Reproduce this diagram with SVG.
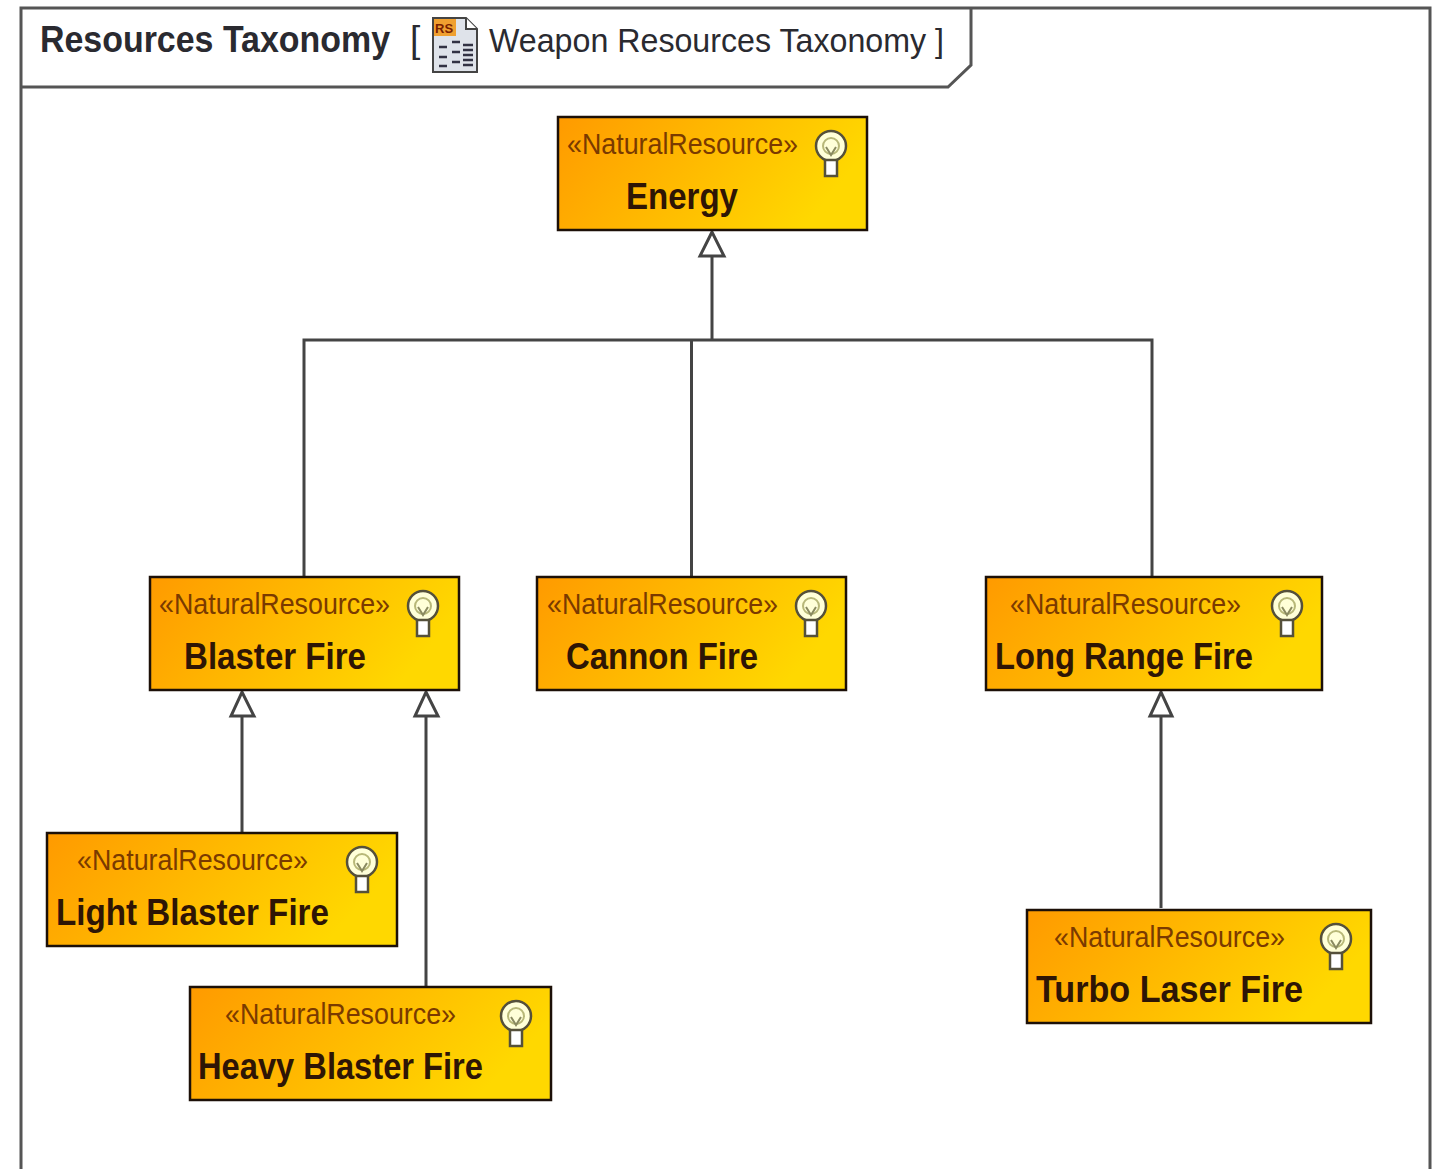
<svg xmlns="http://www.w3.org/2000/svg" width="1438" height="1169" viewBox="0 0 1438 1169">
<style>
.frame{fill:none;stroke:#555;stroke-width:3}
.node{stroke:#1c1008;stroke-width:2.5;fill:url(#g)}
.st{font:29px "Liberation Sans",Arial,sans-serif;fill:#7a3a00}
.nm{font:bold 36px "Liberation Sans",Arial,sans-serif;fill:#2e1505}
.c{fill:none;stroke:#444;stroke-width:3}
.a{fill:#fff;stroke:#444;stroke-width:3}
.t{font:37px "Liberation Sans",Arial,sans-serif;fill:#2a2a30}
.tw{font:34px "Liberation Sans",Arial,sans-serif;fill:#2a2a30}
.tb{font:bold 36px "Liberation Sans",Arial,sans-serif;fill:#2a2a30}
.bulb{fill:#ffffd8;stroke:#55503a;stroke-width:2.5}
.base{fill:#fff;stroke:#55503a;stroke-width:2.5}
.fil{fill:none;stroke:#8a8a60;stroke-width:2}
</style>
<defs>
<linearGradient id="g" x1="0" y1="0" x2="1" y2="0.3"><stop offset="0" stop-color="#ff9a00"/><stop offset="1" stop-color="#ffd800"/></linearGradient>
<g id="b">
<circle cx="0" cy="-1" r="15" class="bulb"/>
<circle cx="0" cy="-1" r="8" fill="none" stroke="#b8b878" stroke-width="2"/>
<path d="M-5 0L0 8L5 0" class="fil"/>
<rect x="-6" y="13" width="12" height="16" class="base"/>
</g>
</defs>
<rect width="1438" height="1169" fill="#fff"/>
<g id="frame">
<path class="frame" d="M21 1169V8H1430V1169"/>
<path class="frame" d="M21 87H948L971 65V8"/>
<text class="tb" x="40" y="52" textLength="350" lengthAdjust="spacingAndGlyphs">Resources Taxonomy</text>
<text class="t" x="410" y="52">[</text>
<text class="tw" x="489" y="52" textLength="455" lengthAdjust="spacingAndGlyphs">Weapon Resources Taxonomy ]</text>
<g id="icon">
<path d="M433 18H466L477 29V72H433Z" fill="#dfe3ea" stroke="#444" stroke-width="2"/>
<rect x="434" y="19" width="22" height="17" fill="#f0a030"/>
<text x="435" y="33" font-family="Liberation Sans,sans-serif" font-weight="bold" font-size="13" fill="#7a2000">RS</text>
<path d="M466 18V29H477" fill="#fff" stroke="#444" stroke-width="2"/>
<path d="M439 47h8M439 57h8M439 66h8M452 42h8M452 52h8M452 62h8M463 45h10M463 50h10M463 55h10M463 60h10M463 65h10" stroke="#334" stroke-width="2.5" fill="none"/>
</g>
</g>
<g id="connectors">
<path class="c" d="M712 256V340M304 576V340H1152V576M691.500 340V576M242 716V832M426 716V986M1161 716V908"/>
<path class="a" d="M712 232L700 256H724Z"/>
<path class="a" d="M242 692L231 716H254Z"/>
<path class="a" d="M426 692L415 716H438Z"/>
<path class="a" d="M1161 692L1150 716H1172Z"/>
</g>
<g id="energy"><rect class="node" x="558" y="117" width="309" height="113"/><text class="st" x="567" y="154" textLength="231" lengthAdjust="spacingAndGlyphs">«NaturalResource»</text><text class="nm" x="626" y="209" textLength="112" lengthAdjust="spacingAndGlyphs">Energy</text><use href="#b" x="831" y="147"/></g>
<g id="blaster"><rect class="node" x="150" y="577" width="309" height="113"/><text class="st" x="159" y="614" textLength="231" lengthAdjust="spacingAndGlyphs">«NaturalResource»</text><text class="nm" x="184" y="669" textLength="182" lengthAdjust="spacingAndGlyphs">Blaster Fire</text><use href="#b" x="423" y="607"/></g>
<g id="cannon"><rect class="node" x="537" y="577" width="309" height="113"/><text class="st" x="547" y="614" textLength="231" lengthAdjust="spacingAndGlyphs">«NaturalResource»</text><text class="nm" x="566" y="669" textLength="192" lengthAdjust="spacingAndGlyphs">Cannon Fire</text><use href="#b" x="811" y="607"/></g>
<g id="longrange"><rect class="node" x="986" y="577" width="336" height="113"/><text class="st" x="1010" y="614" textLength="231" lengthAdjust="spacingAndGlyphs">«NaturalResource»</text><text class="nm" x="995" y="669" textLength="258" lengthAdjust="spacingAndGlyphs">Long Range Fire</text><use href="#b" x="1287" y="607"/></g>
<g id="light"><rect class="node" x="47" y="833" width="350" height="113"/><text class="st" x="77" y="870" textLength="231" lengthAdjust="spacingAndGlyphs">«NaturalResource»</text><text class="nm" x="56" y="925" textLength="273" lengthAdjust="spacingAndGlyphs">Light Blaster Fire</text><use href="#b" x="362" y="863"/></g>
<g id="heavy"><rect class="node" x="190" y="987" width="361" height="113"/><text class="st" x="225" y="1024" textLength="231" lengthAdjust="spacingAndGlyphs">«NaturalResource»</text><text class="nm" x="198" y="1079" textLength="285" lengthAdjust="spacingAndGlyphs">Heavy Blaster Fire</text><use href="#b" x="516" y="1017"/></g>
<g id="turbo"><rect class="node" x="1027" y="910" width="344" height="113"/><text class="st" x="1054" y="947" textLength="231" lengthAdjust="spacingAndGlyphs">«NaturalResource»</text><text class="nm" x="1036" y="1002" textLength="267" lengthAdjust="spacingAndGlyphs">Turbo Laser Fire</text><use href="#b" x="1336" y="940"/></g>
</svg>
